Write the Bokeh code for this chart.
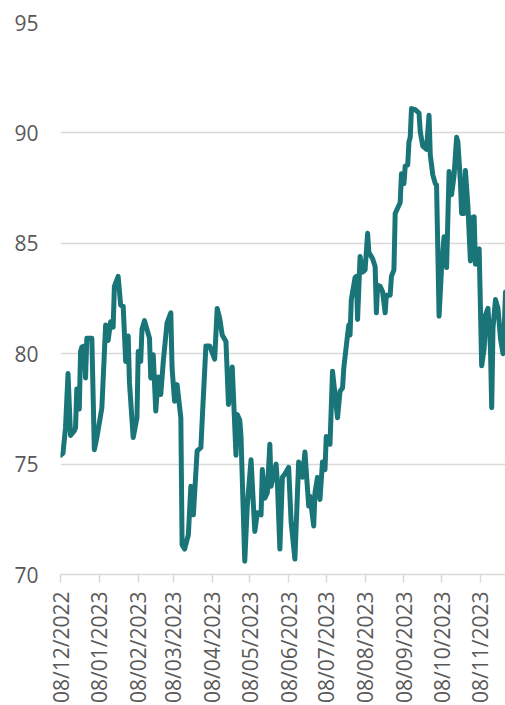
from datetime import datetime, timedelta
from math import pi

from bokeh.plotting import figure
from bokeh.models import Range1d, FixedTicker, DatetimeTickFormatter
from bokeh.embed import file_html
from bokeh.resources import INLINE

# ---- data ----
start_date = "2022-12-08"

day_offsets = [
    0, 2, 4, 6, 8, 11, 12, 13, 15, 16, 17, 19, 20, 21, 25, 27, 29, 33, 36, 38,
    40, 42, 43, 46, 48, 50, 52, 54, 55, 58, 61, 62, 64, 65, 67, 71, 72, 74, 76, 78,
    80, 82, 85, 88, 89, 91, 93, 96, 97, 99, 102, 104, 106, 109, 112, 113, 116, 119, 123, 125,
    127, 129, 132, 134, 137, 140, 141, 143, 144, 147, 149, 152, 155, 157, 160, 161, 163, 165, 167, 168,
    172, 173, 175, 177, 179, 182, 184, 187, 190, 192, 193, 195, 198, 199, 202, 203, 205, 207, 209, 211,
    212, 213, 215, 217, 219, 221, 223, 225, 226, 229, 230, 231, 232, 235, 236, 237, 239, 241, 243, 245,
    246, 249, 251, 252, 253, 255, 257, 259, 260, 263, 264, 266, 267, 271, 272, 274, 275, 277, 278, 279,
    280, 283, 286, 287, 289, 292, 294, 295, 297, 299, 300, 302, 304, 306, 308, 310, 312, 314, 316, 317,
    319, 320, 322, 323, 325, 327, 328, 330, 331, 333, 334, 336, 338, 339, 341, 343, 344, 345, 347, 349,
    351, 353, 354, 355,
]

index_values = [
    75.4, 75.5, 76.65, 79.1, 76.3, 76.5, 76.65, 78.4, 77.5, 80.1, 80.3, 80.35, 78.9, 80.7, 80.7, 75.65, 76.2, 77.55, 81.3, 80.6,
    81.45, 81.2, 83.05, 83.5, 82.2, 82.15, 79.65, 80.8, 78.7, 76.2, 77.1, 80.1, 79.65, 81.1, 81.5, 80.7, 78.9, 79.95, 77.4, 78.95,
    78.15, 79.65, 81.4, 81.85, 79.35, 77.85, 78.6, 77.1, 71.35, 71.15, 71.8, 74.0, 72.7, 75.6, 75.75, 76.95, 80.35, 80.35, 79.75, 82.05,
    81.6, 80.85, 80.55, 77.7, 79.4, 75.4, 77.25, 77.0, 76.25, 70.6, 73.1, 75.2, 71.95, 72.8, 72.7, 74.75, 73.45, 73.7, 75.9, 74.0,
    75.0, 74.2, 71.15, 74.4, 74.55, 74.85, 72.35, 70.7, 75.1, 74.75, 74.4, 75.55, 73.1, 73.55, 72.2, 73.7, 74.4, 73.4, 75.1, 74.75,
    76.25, 76.1, 75.9, 79.2, 78.15, 77.1, 78.3, 78.45, 79.35, 80.85, 81.3, 80.85, 82.45, 83.45, 83.5, 81.55, 84.4, 83.7, 83.8, 85.45,
    84.6, 84.3, 83.95, 81.85, 83.1, 83.05, 82.8, 81.85, 82.65, 82.65, 83.5, 83.8, 86.35, 86.85, 88.15, 87.7, 88.5, 88.55, 89.6, 89.8,
    91.1, 91.05, 90.9, 90.05, 89.4, 89.25, 90.8, 89.0, 88.1, 87.7, 87.65, 81.7, 83.9, 85.3, 83.9, 88.25, 87.2, 88.1, 89.8, 89.6,
    87.8, 86.35, 86.35, 88.3, 86.7, 84.2, 86.15, 86.2, 84.05, 84.7, 84.75, 79.45, 80.25, 81.75, 82.05, 80.25, 77.55, 81.15, 82.45, 82.05,
    80.7, 80.0, 81.15, 82.8,
]

tick_dates = [
    "2022-12-08", "2023-01-08", "2023-02-08", "2023-03-08", "2023-04-08", "2023-05-08",
    "2023-06-08", "2023-07-08", "2023-08-08", "2023-09-08", "2023-10-08", "2023-11-08",
]
y_ticks = [70, 75, 80, 85, 90, 95]

# ---- build ----
start = datetime.strptime(start_date, "%Y-%m-%d")
dates = [start + timedelta(days=d) for d in day_offsets]
epoch = datetime(1970, 1, 1)


def to_ms(dt):
    return (dt - epoch).total_seconds() * 1000.0


tick_dts = [datetime.strptime(t, "%Y-%m-%d") for t in tick_dates]
tick_ms = [to_ms(t) for t in tick_dts]

p = figure(
    width=505, height=705,
    x_axis_type="datetime",
    x_range=Range1d(dates[0], dates[-1]),
    y_range=Range1d(y_ticks[0], y_ticks[-1]),
    output_backend="svg", toolbar_location=None,
    min_border_left=60, min_border_right=0, min_border_top=22, min_border_bottom=130,
)
p.outline_line_color = None
p.background_fill_color = "white"
p.border_fill_color = "white"

p.line(dates, index_values, line_color="#197577", line_width=5,
       line_join="round", line_cap="round")

grey_text = "#595959"
grid_col = "#d9d9d9"

# y axis
yt = FixedTicker(ticks=y_ticks)
p.yaxis.ticker = yt
p.ygrid.ticker = yt
p.yaxis.axis_line_color = None
p.yaxis.major_tick_line_color = None
p.yaxis.minor_tick_line_color = None
p.yaxis.major_label_text_font = "Open Sans"
p.yaxis.major_label_text_font_size = "21px"
p.yaxis.major_label_text_color = grey_text
p.yaxis.major_label_standoff = 16
p.ygrid.grid_line_color = grid_col
p.ygrid.grid_line_width = 1.5

# x axis
p.xaxis.ticker = FixedTicker(ticks=tick_ms)
p.xaxis.formatter = DatetimeTickFormatter(
    days="%d/%m/%Y", months="%d/%m/%Y", years="%d/%m/%Y", context=None)
p.xaxis.major_label_overrides = {ms: dt.strftime("%d/%m/%Y") for ms, dt in zip(tick_ms, tick_dts)}
p.xaxis.major_label_orientation = pi / 2
p.xaxis.axis_line_color = grid_col
p.xaxis.axis_line_width = 1.5
p.xaxis.major_tick_line_color = grid_col
p.xaxis.major_tick_line_width = 1.5
p.xaxis.major_tick_in = 0
p.xaxis.major_tick_out = 8
p.xaxis.minor_tick_line_color = None
p.xaxis.major_label_text_font = "Open Sans"
p.xaxis.major_label_text_font_size = "21px"
p.xaxis.major_label_text_color = grey_text
p.xaxis.major_label_standoff = 9
p.xgrid.grid_line_color = None

open("out.html", "w").write(file_html(p, INLINE))
